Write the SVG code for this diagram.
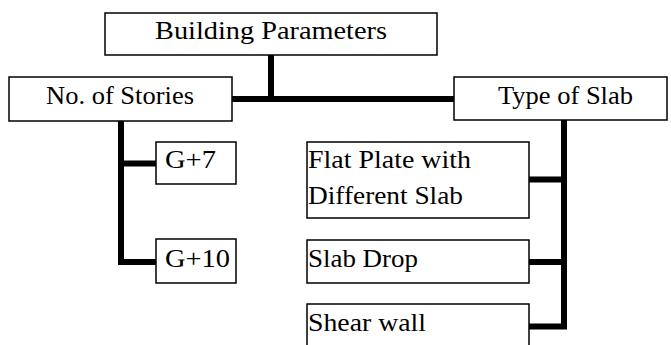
<svg xmlns="http://www.w3.org/2000/svg" width="671" height="345" viewBox="0 0 671 345">
  <style>
    .box { fill: #ffffff; stroke: #000000; stroke-width: 1.5; }
    .lbl { font-family: "Liberation Serif", "DejaVu Serif", serif; font-size: 24.5px; fill: #000000; }
    .wire { fill: none; stroke: #000000; stroke-width: 6; stroke-linecap: butt; stroke-linejoin: miter; }
  </style>
  <rect width="671" height="345" fill="#ffffff"/>

  <!-- connectors -->
  <g id="connectors">
    <path class="wire" d="M271 55 V99"/>
    <path class="wire" d="M232 99 H454"/>
    <path class="wire" d="M121 121 V262 H156"/>
    <path class="wire" d="M121 163.5 H156"/>
    <path class="wire" d="M564 120 V326.5 H529"/>
    <path class="wire" d="M529 179.5 H564"/>
    <path class="wire" d="M529 262 H564"/>
  </g>

  <g id="building-parameters">
    <rect class="box" x="105" y="13" width="332" height="42"/>
    <text class="lbl" x="155" y="39" textLength="232" lengthAdjust="spacingAndGlyphs">Building Parameters</text>
  </g>

  <g id="no-of-stories">
    <rect class="box" x="9" y="77" width="223" height="44"/>
    <text class="lbl" x="46" y="103.5" textLength="148" lengthAdjust="spacingAndGlyphs">No. of Stories</text>
  </g>

  <g id="type-of-slab">
    <rect class="box" x="454" y="77" width="213" height="43"/>
    <text class="lbl" x="498" y="103.5" textLength="135" lengthAdjust="spacingAndGlyphs">Type of Slab</text>
  </g>

  <g id="g7">
    <rect class="box" x="156" y="142" width="80" height="42"/>
    <text class="lbl" x="165" y="167.5" textLength="51" lengthAdjust="spacingAndGlyphs">G+7</text>
  </g>

  <g id="g10">
    <rect class="box" x="156" y="239" width="80" height="44"/>
    <text class="lbl" x="165" y="266.5" textLength="65" lengthAdjust="spacingAndGlyphs">G+10</text>
  </g>

  <g id="flat-plate">
    <rect class="box" x="307" y="142" width="222" height="76"/>
    <text class="lbl" x="308" y="167.5" textLength="163" lengthAdjust="spacingAndGlyphs">Flat Plate with</text>
    <text class="lbl" x="308" y="204" textLength="155" lengthAdjust="spacingAndGlyphs">Different Slab</text>
  </g>

  <g id="slab-drop">
    <rect class="box" x="307" y="240" width="222" height="43"/>
    <text class="lbl" x="308" y="266.5" textLength="110" lengthAdjust="spacingAndGlyphs">Slab Drop</text>
  </g>

  <g id="shear-wall">
    <rect class="box" x="307" y="304" width="222" height="60"/>
    <text class="lbl" x="308" y="331" textLength="118" lengthAdjust="spacingAndGlyphs">Shear wall</text>
  </g>
</svg>
